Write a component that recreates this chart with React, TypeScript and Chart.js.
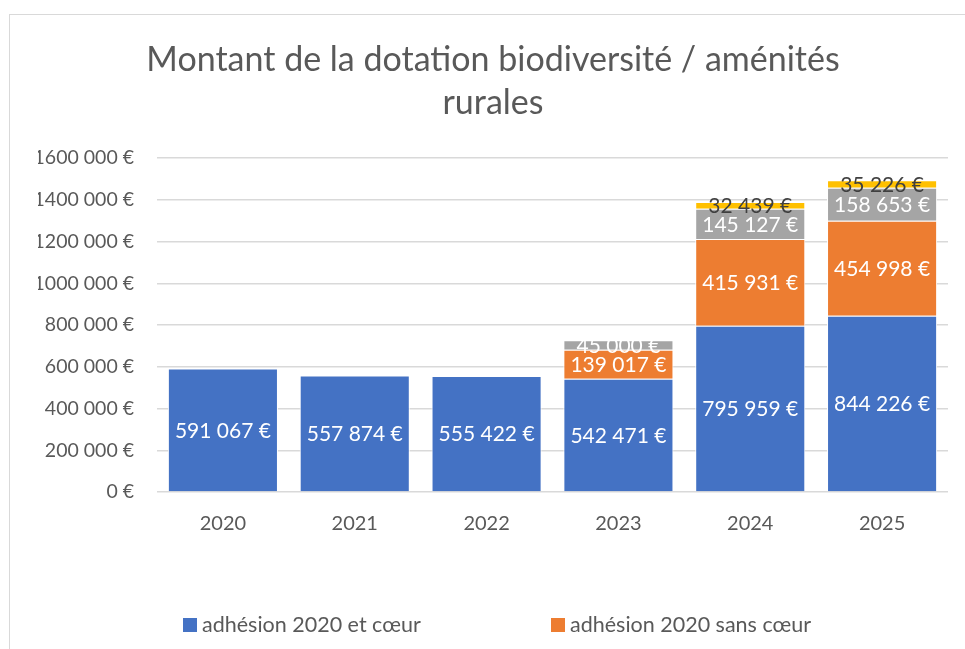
import React, { useEffect, useRef } from 'react';
import { Chart, registerables } from 'chart.js';

Chart.register(...registerables);

const years = ['2020', '2021', '2022', '2023', '2024', '2025'];
const adhesionCoeur = [591067, 557874, 555422, 542471, 795959, 844226];
const adhesionSansCoeur = [0, 0, 0, 139017, 415931, 454998];
const serie3 = [0, 0, 0, 45000, 145127, 158653];
const serie4 = [0, 0, 0, 0, 32439, 35226];
const seriesNames = ['adhésion 2020 et cœur', 'adhésion 2020 sans cœur', 'nouvelles adhésions', 'autres'];
const seriesColors = ['#4472C4', '#ED7D31', '#A5A5A5', '#FFC000'];
const labelColors = ['#FFFFFF', '#FFFFFF', '#FFFFFF', '#404040'];
const titleLines = ['Montant de la dotation biodiversité / aménités', 'rurales'];
const yMax = 1600000;
const yStep = 200000;
const visibleLegendItems = 2;

const FONT = 'Lato, "Open Sans", sans-serif';
const TEXT = '#595959';

function fmtLabel(n: number): string {
  return n.toString().replace(/\B(?=(\d{3})+(?!\d))/g, ' ') + ' €';
}
function fmtTick(n: number): string {
  if (n < 1000) return n + ' €';
  const thousands = Math.floor(n / 1000);
  const rest = String(n % 1000).padStart(3, '0');
  return thousands + ' ' + rest + ' €';
}

const dataLabelPlugin = {
  id: 'segLabels',
  afterDatasetsDraw(chart: any) {
    const ctx = chart.ctx;
    ctx.save();
    ctx.font = '21px ' + FONT;
    ctx.textAlign = 'center';
    ctx.textBaseline = 'middle';
    chart.data.datasets.forEach((ds: any, di: number) => {
      const meta = chart.getDatasetMeta(di);
      meta.data.forEach((bar: any, i: number) => {
        const v = ds.data[i];
        if (!v) return;
        ctx.fillStyle = labelColors[di];
        ctx.fillText(fmtLabel(v), bar.x, (bar.y + bar.base) / 2 + 1);
      });
    });
    ctx.restore();
  },
};

const legendPlugin = {
  id: 'customLegend',
  afterDraw(chart: any) {
    const ctx = chart.ctx;
    ctx.save();
    ctx.font = '21.5px ' + FONT;
    ctx.textBaseline = 'middle';
    ctx.textAlign = 'left';
    const y = 625;
    const startX = 183;
    const colW = 368;
    chart.data.datasets.slice(0, visibleLegendItems).forEach((ds: any, i: number) => {
      const x = startX + i * colW;
      ctx.fillStyle = ds.backgroundColor;
      ctx.fillRect(x, y - 7, 14, 14);
      ctx.fillStyle = TEXT;
      ctx.fillText(ds.label, x + 19, y);
    });
    ctx.restore();
  },
};

export default function App() {
  const ref = useRef<HTMLCanvasElement>(null);
  useEffect(() => {
    const seriesData = [adhesionCoeur, adhesionSansCoeur, serie3, serie4];
    const chart = new Chart(ref.current as HTMLCanvasElement, {
      type: 'bar',
      data: {
        labels: years,
        datasets: seriesData.map((d, i) => ({
          label: seriesNames[i],
          data: d,
          backgroundColor: seriesColors[i],
          borderColor: '#FFFFFF',
          borderWidth: 1,
          barPercentage: 0.835,
          categoryPercentage: 1,
        })),
      },
      options: {
        animation: false,
        responsive: false,
        maintainAspectRatio: false,
        layout: { padding: { top: 0, left: 38, right: 17, bottom: 0 } },
        plugins: {
          legend: { display: false },
          tooltip: { enabled: false },
          title: {
            display: true,
            text: titleLines,
            color: TEXT,
            font: { family: FONT, size: 34, weight: 'normal', lineHeight: 1.265 },
            padding: { top: 39, bottom: 33 },
          },
        },
        scales: {
          x: {
            stacked: true,
            grid: { display: false },
            border: { display: false },
            ticks: { color: TEXT, font: { family: FONT, size: 20 }, padding: 12 },
            afterFit: (s: any) => { s.height = 157; },
          },
          y: {
            stacked: true,
            min: 0,
            max: yMax,
            ticks: {
              stepSize: yStep,
              color: TEXT,
              font: { family: FONT, size: 19.5 },
              padding: 23,
              callback: (v: any) => fmtTick(Number(v)),
            },
            grid: { color: '#D9D9D9', lineWidth: 1.5, drawTicks: false },
            border: { display: false },
            afterFit: (s: any) => { s.width = 119; },
          },
        },
      },
      plugins: [dataLabelPlugin, legendPlugin],
    } as any);
    return () => chart.destroy();
  }, []);
  return (
    <div style={{ position: 'fixed', left: 0, top: 0, width: 965, height: 649, background: '#fff' }}>
      <div style={{ position: 'absolute', left: 9, top: 14, right: -2, bottom: -2, borderLeft: '1px solid #D9D9D9', borderTop: '1px solid #D9D9D9' }} />
      <canvas ref={ref} width={965} height={649} style={{ position: 'absolute', left: 0, top: 0 }} />
    </div>
  );
}
